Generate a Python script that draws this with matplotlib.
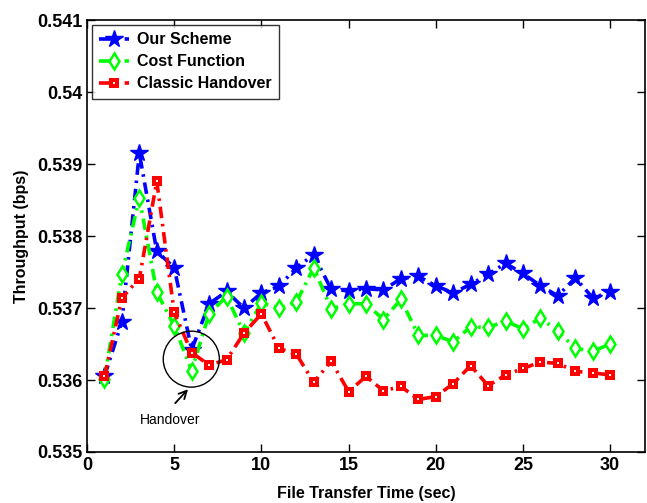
import numpy as np
import matplotlib.pyplot as plt
from matplotlib.patches import Ellipse

plt.rcParams['font.family'] = ['Liberation Sans', 'DejaVu Sans']
plt.rcParams['font.weight'] = 'bold'

time_s = list(range(1, 31))

our_scheme = [0.53605, 0.53681, 0.53915, 0.53779, 0.53756, 0.53642, 0.53706, 0.53723,
              0.53700, 0.53721, 0.53730, 0.53756, 0.53774, 0.53726, 0.53724, 0.53727,
              0.53725, 0.53741, 0.53744, 0.53731, 0.53721, 0.53733, 0.53747, 0.53762,
              0.53748, 0.53731, 0.53717, 0.53742, 0.53714, 0.53722]

cost_function = [0.53602, 0.53747, 0.53853, 0.53722, 0.53675, 0.53613, 0.53692, 0.53716,
                 0.53665, 0.53707, 0.53700, 0.53708, 0.53756, 0.53699, 0.53706, 0.53706,
                 0.53684, 0.53712, 0.53662, 0.53662, 0.53653, 0.53674, 0.53673, 0.53682,
                 0.53671, 0.53686, 0.53668, 0.53644, 0.53640, 0.53650]

classic_handover = [0.53605, 0.53714, 0.53741, 0.53876, 0.53694, 0.53638, 0.53621, 0.53628,
                    0.53665, 0.53692, 0.53644, 0.53636, 0.53597, 0.53626, 0.53584, 0.53605,
                    0.53585, 0.53591, 0.53573, 0.53577, 0.53595, 0.53620, 0.53592, 0.53607,
                    0.53616, 0.53625, 0.53623, 0.53612, 0.53610, 0.53607]

y_ticks = [0.535, 0.536, 0.537, 0.538, 0.539, 0.540, 0.541]
y_tick_labels = ["0.535", "0.536", "0.537", "0.538", "0.539", "0.54", "0.541"]
x_ticks = [0, 5, 10, 15, 20, 25, 30]

fig = plt.figure(figsize=(6.47, 5.03), dpi=100)
ax = fig.add_axes([0.1345, 0.1014, 0.8625, 0.8586])

dash_dot = (0, (3.2, 1.6, 0.7, 1.6))

ax.plot(time_s, our_scheme, linestyle=dash_dot, color="b", linewidth=2.6,
        marker="*", markersize=13, markerfacecolor="b", markeredgecolor="b",
        label="Our Scheme")
ax.plot(time_s, cost_function, linestyle=dash_dot, color="#00ff00", linewidth=2.6,
        marker="d", markersize=8.5, markerfacecolor="w", markeredgecolor="#00ff00",
        markeredgewidth=1.8, label="Cost Function")
ax.plot(time_s, classic_handover, linestyle=dash_dot, color="r", linewidth=2.6,
        marker="s", markersize=4.4, markerfacecolor="w", markeredgecolor="r",
        markeredgewidth=2.9, label="Classic Handover")

# handover annotation
circ = Ellipse((5.98, 0.53629), width=56 / 17.4, height=56 / 72000,
               fill=False, edgecolor="k", linewidth=1.0, zorder=5)
ax.add_patch(circ)
ax.annotate("", xy=(5.9, 0.53590), xytext=(4.95, 0.53565),
            arrowprops=dict(arrowstyle="->", color="k", lw=1.3, mutation_scale=14))
ax.text(4.77, 0.53545, "Handover", ha="center", va="center", fontsize=10,
        fontweight="normal")

ax.set_xlim(0, 32)
ax.set_ylim(0.535, 0.541)
ax.set_xticks(x_ticks)
ax.set_yticks(y_ticks)
ax.set_yticklabels(y_tick_labels)
ax.tick_params(direction="in", top=True, right=True, labelsize=13, length=6, width=1)
for lab in ax.get_xticklabels() + ax.get_yticklabels():
    lab.set_fontweight("bold")
for sp in ax.spines.values():
    sp.set_linewidth(1.2)

ax.set_xlabel("File Transfer Time (sec)", fontsize=11.5, fontweight="bold", labelpad=9)
ax.set_ylabel("Throughput (bps)", fontsize=11.5, fontweight="bold", labelpad=6)

leg = ax.legend(loc="upper left", fontsize=11.5, frameon=True, fancybox=False,
                edgecolor="k", borderaxespad=0.3, handlelength=1.9, handletextpad=0.5,
                labelspacing=0.45, borderpad=0.45, numpoints=1)
leg.get_frame().set_linewidth(1.0)
for t in leg.get_texts():
    t.set_fontweight("bold")

fig.savefig("out.png", dpi=100)
